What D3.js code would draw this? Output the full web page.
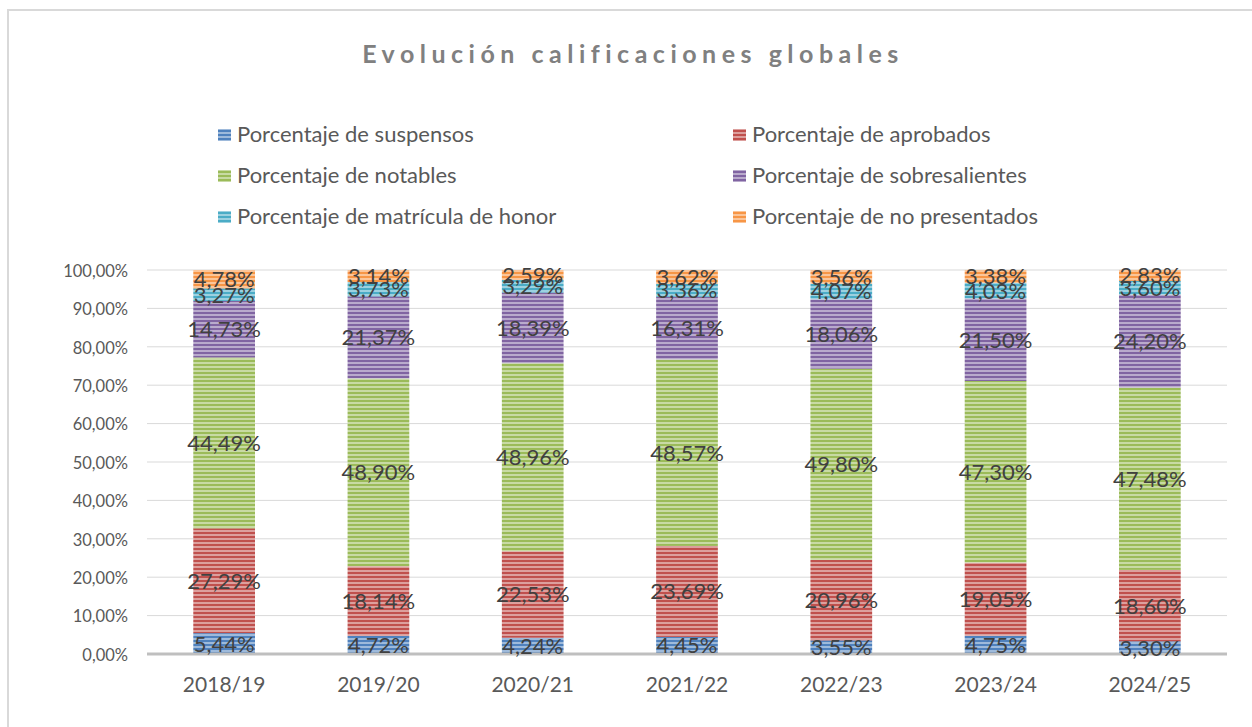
<!DOCTYPE html>
<html>
<head>
<meta charset="utf-8">
<script src="https://cdn.jsdelivr.net/npm/d3@7"></script>
<style>
  body { margin: 0; background: #fff; }
  svg { display: block; }
</style>
</head>
<body>
<svg width="1252" height="727"></svg>
<script>
// chart values
const years = ['2018/19', '2019/20', '2020/21', '2021/22', '2022/23', '2023/24', '2024/25'];
const seriesNames = [
  'Porcentaje de suspensos', 'Porcentaje de aprobados', 'Porcentaje de notables',
  'Porcentaje de sobresalientes', 'Porcentaje de matrícula de honor', 'Porcentaje de no presentados'
];
const suspensos      = [5.44, 4.72, 4.24, 4.45, 3.55, 4.75, 3.30];
const aprobados      = [27.29, 18.14, 22.53, 23.69, 20.96, 19.05, 18.60];
const notables       = [44.49, 48.90, 48.96, 48.57, 49.80, 47.30, 47.48];
const sobresalientes = [14.73, 21.37, 18.39, 16.31, 18.06, 21.50, 24.20];
const matricula      = [3.27, 3.73, 3.29, 3.36, 4.07, 4.03, 3.60];
const noPresentados  = [4.78, 3.14, 2.59, 3.62, 3.56, 3.38, 2.83];
const yTicks = [0, 10, 20, 30, 40, 50, 60, 70, 80, 90, 100];

const allSeries = [suspensos, aprobados, notables, sobresalientes, matricula, noPresentados];
const colors = ['#4f81bd', '#c0504d', '#9bbb59', '#8064a2', '#4bacc6', '#f79646'];
const keys = seriesNames;

const table = years.map((yr, i) => {
  const row = { year: yr };
  keys.forEach((k, j) => row[k] = allSeries[j][i]);
  return row;
});

const svg = d3.select('svg');
const font = 'Lato, "Open Sans", sans-serif';

// striped fills
const defs = svg.append('defs');
colors.forEach((c, i) => {
  const p = defs.append('pattern')
    .attr('id', 'stripe' + i)
    .attr('patternUnits', 'userSpaceOnUse')
    .attr('width', 8).attr('height', 4);
  p.append('rect').attr('width', 8).attr('height', 4)
    .attr('fill', d3.interpolateRgb(c, '#ffffff')(0.45));
  p.append('rect').attr('width', 8).attr('height', 2).attr('fill', c);
});

// chart frame
svg.append('rect')
  .attr('x', 8).attr('y', 10)
  .attr('width', 1260).attr('height', 740)
  .attr('fill', 'none')
  .attr('stroke', '#d9d9d9')
  .attr('stroke-width', 2);

svg.append('text')
  .attr('x', 633).attr('y', 63)
  .attr('text-anchor', 'middle')
  .attr('font-family', font)
  .attr('font-weight', 'bold')
  .attr('font-size', 25)
  .attr('letter-spacing', 5.5)
  .attr('fill', '#808080')
  .text('Evolución calificaciones globales');

// legend
const legendPos = [[218, 142], [733, 142], [218, 183], [733, 183], [218, 224], [733, 224]];
const legend = svg.append('g');
keys.forEach((k, i) => {
  const g = legend.append('g').attr('transform', `translate(${legendPos[i][0]}, ${legendPos[i][1]})`);
  g.append('rect').attr('x', 0).attr('y', -13).attr('width', 13).attr('height', 12)
    .attr('fill', `url(#stripe${i})`);
  g.append('text').attr('x', 19).attr('y', 0)
    .attr('font-family', font).attr('font-size', 22).attr('fill', '#595959')
    .text(k);
});

const plotLeft = 147, plotRight = 1227, plotTop = 270, plotBottom = 654;

const x = d3.scaleBand().domain(years).range([plotLeft, plotRight]).paddingInner(0.6).paddingOuter(0.3);
const y = d3.scaleLinear().domain([0, 100]).range([plotBottom, plotTop]);

// gridlines
svg.append('g')
  .selectAll('line')
  .data(yTicks.slice(1))
  .enter()
  .append('line')
  .attr('x1', plotLeft).attr('x2', plotRight)
  .attr('y1', d => y(d)).attr('y2', d => y(d))
  .attr('stroke', '#d9d9d9').attr('stroke-width', 1);

// y axis labels
const yAxis = svg.append('g')
  .attr('transform', `translate(${plotLeft}, 1)`)
  .call(d3.axisLeft(y).tickValues(yTicks).tickSize(0).tickPadding(19)
    .tickFormat(d => d.toFixed(2).replace('.', ',') + '%'));
yAxis.select('.domain').remove();
yAxis.selectAll('text')
  .attr('font-family', font).attr('font-size', 16.5).attr('fill', '#595959');

// stacked bars
const stacked = d3.stack().keys(keys)(table);

const layers = svg.append('g')
  .selectAll('g')
  .data(stacked)
  .enter()
  .append('g')
  .attr('fill', (d, i) => `url(#stripe${i})`);

layers.selectAll('rect')
  .data(d => d)
  .enter()
  .append('rect')
  .attr('x', d => x(d.data.year))
  .attr('y', d => y(d[1]))
  .attr('height', d => y(d[0]) - y(d[1]))
  .attr('width', x.bandwidth());

// baseline
svg.append('line')
  .attr('x1', plotLeft).attr('x2', plotRight)
  .attr('y1', plotBottom).attr('y2', plotBottom)
  .attr('stroke', '#bfbfbf').attr('stroke-width', 3);

// data labels
stacked.forEach((layer, i) => {
  svg.append('g')
    .selectAll('text')
    .data(layer)
    .enter()
    .append('text')
    .attr('x', d => x(d.data.year) + x.bandwidth() / 2)
    .attr('y', d => (y(d[0]) + y(d[1])) / 2 + 8)
    .attr('text-anchor', 'middle')
    .attr('font-family', font).attr('font-size', 22).attr('fill', '#404040')
    .text(d => (d[1] - d[0]).toFixed(2).replace('.', ',') + '%');
});

// x axis labels
const xAxis = svg.append('g')
  .attr('transform', `translate(0, ${plotBottom})`)
  .call(d3.axisBottom(x).tickSize(0).tickPadding(23));
xAxis.select('.domain').remove();
xAxis.selectAll('text')
  .attr('font-family', font).attr('font-size', 21).attr('fill', '#595959');
</script>
</body>
</html>
